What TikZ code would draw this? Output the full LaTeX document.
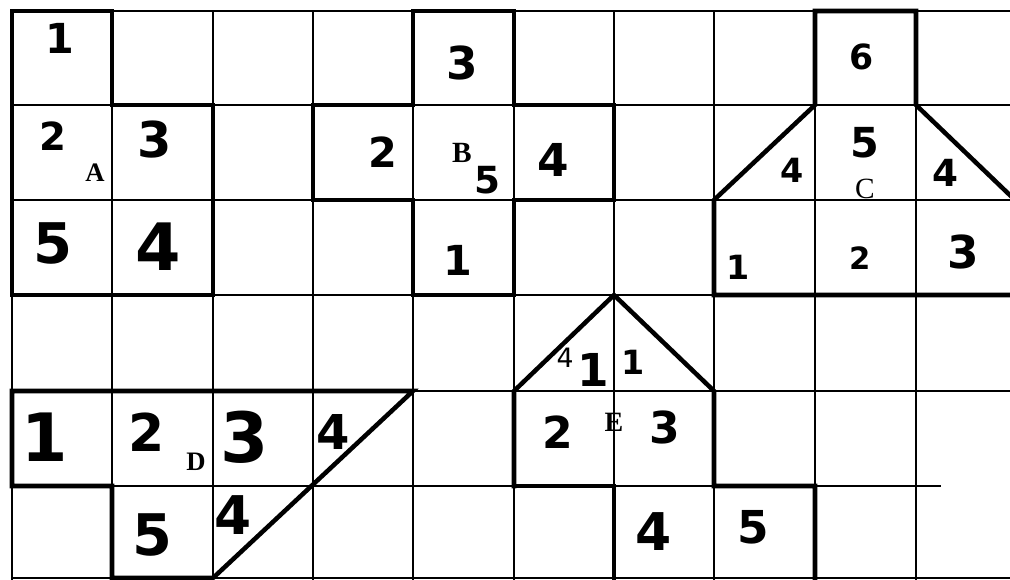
\documentclass[tikz,border=0pt]{standalone}
\usepackage{fontspec}
\setmainfont{DejaVu Sans}
\newfontfamily\lserif{Liberation Serif}
\newcommand\hwsz[1]{\fontsize{#1}{#1}\selectfont}
\begin{document}
\begin{tikzpicture}[x=0.75pt,y=-0.75pt,
  gridline/.style={line width=1.5pt},
  outline/.style={line width=3.4pt, line join=miter, line cap=rect},
  hw/.style={inner sep=0pt, font=\bfseries},
  tagb/.style={inner sep=0pt, font=\lserif\bfseries\hwsz{20}},
  tagr/.style={inner sep=0pt, font=\lserif\hwsz{22}}]
\useasboundingbox (0,0) rectangle (1010,579);
\fill[white] (0,0) rectangle (1010,579);
% grid
\foreach \x in {12,112,213,313,413,514,614,714,815,916}
  \draw[gridline] (\x,11) -- (\x,585);
\foreach \y in {11,105,200,295,391,578}
  \draw[gridline] (12,\y) -- (1016,\y);
\draw[gridline] (12,486) -- (941,486);
% shape A
\draw[outline] (12,11) -- (112,11) -- (112,105) -- (213,105) -- (213,295) -- (12,295) -- cycle;
% shape B
\draw[outline] (413,11) -- (514,11) -- (514,105) -- (614,105) -- (614,200) -- (514,200)
  -- (514,295) -- (413,295) -- (413,200) -- (313,200) -- (313,105) -- (413,105) -- cycle;
% shape C
\draw[outline] (1016,201) -- (916,105) -- (916,11) -- (815,11) -- (815,105) -- (714,200)
  -- (714,295) -- (1016,295);
% shape D
\draw[outline] (12,391) -- (413,391) -- (213,578) -- (112,578) -- (112,486) -- (12,486) -- cycle;
% shape E
\draw[outline] (514,486) -- (514,391) -- (614,295) -- (714,391) -- (714,486) -- (815,486) -- (815,585);
\draw[outline] (514,486) -- (614,486) -- (614,585);
% labels A
\node[hw, font=\bfseries\hwsz{31}] (a1) at (60,38) {1};
\node[hw, font=\bfseries\hwsz{29}] (a2) at (53,136) {2};
\node[hw, font=\bfseries\hwsz{37}] (a3) at (155,140) {3};
\node[hw, font=\bfseries\hwsz{42}] (a5) at (53,243) {5};
\node[hw, font=\bfseries\hwsz{49}] (a4) at (158,247) {4};
\node[tagb] (ta) at (95,173) {A};
% labels B
\node[hw, font=\bfseries\hwsz{34}] (b3) at (462,63) {3};
\node[hw, font=\bfseries\hwsz{31}] (b2) at (383,152) {2};
\node[tagb, font=\lserif\bfseries\hwsz{22}] (tb) at (462,153) {B};
\node[hw, font=\bfseries\hwsz{28}] (b5) at (487,180) {5};
\node[hw, font=\bfseries\hwsz{34}] (b4) at (553,160) {4};
\node[hw, font=\bfseries\hwsz{31}] (b1) at (458,260) {1};
% labels C
\node[hw, font=\bfseries\hwsz{26}] (c6) at (862,57) {6};
\node[hw, font=\bfseries\hwsz{25}] (c4l) at (792,170) {4};
\node[hw, font=\bfseries\hwsz{31}] (c5) at (865,143) {5};
\node[tagr] (tc) at (865,189) {C};
\node[hw, font=\bfseries\hwsz{28}] (c4r) at (945,173) {4};
\node[hw, font=\bfseries\hwsz{25}] (c1) at (738,267) {1};
\node[hw, font=\bfseries\hwsz{23}] (c2) at (860,258) {2};
\node[hw, font=\bfseries\hwsz{34}] (c3) at (963,252) {3};
% labels D
\node[hw, font=\bfseries\hwsz{50}] (d1) at (45,437) {1};
\node[hw, font=\bfseries\hwsz{39}] (d2) at (147,432) {2};
\node[tagb] (td) at (196,462) {D};
\node[hw, font=\bfseries\hwsz{52}] (d3) at (245,437) {3};
\node[hw, font=\bfseries\hwsz{36}] (d4t) at (333,432) {4};
\node[hw, font=\bfseries\hwsz{43}] (d5) at (152,535) {5};
\node[hw, font=\bfseries\hwsz{40}] (d4b) at (233,515) {4};
% labels E
\node[hw, font=\hwsz{20}] (e4x) at (565,358) {4};
\node[hw, font=\bfseries\hwsz{34}] (e1l) at (593,370) {1};
\node[hw, font=\bfseries\hwsz{25}] (e1r) at (633,362) {1};
\node[hw, font=\bfseries\hwsz{33}] (e2) at (558,432) {2};
\node[tagb, font=\lserif\bfseries\hwsz{21}] (te) at (614,422) {E};
\node[hw, font=\bfseries\hwsz{33}] (e3) at (665,427) {3};
\node[hw, font=\bfseries\hwsz{39}] (e4) at (654,532) {4};
\node[hw, font=\bfseries\hwsz{34}] (e5) at (753,527) {5};
\end{tikzpicture}
\end{document}
